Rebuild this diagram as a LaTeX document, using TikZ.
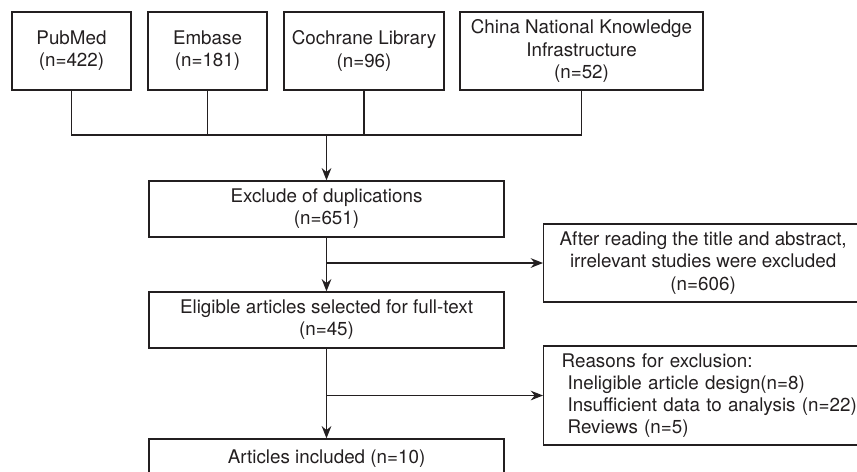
\documentclass[tikz,border=0pt]{standalone}
\usepackage{fontspec}
\setmainfont{TeX Gyre Heros}
\usetikzlibrary{arrows.meta}
\definecolor{flowline}{HTML}{231F20}

\begin{document}
\begin{tikzpicture}[x=0.02cm,y=-0.02cm,>={Stealth[length=7pt,width=5.5pt]},
  line width=0.75pt,color=flowline,
  box/.style={draw=flowline,align=center,inner sep=0pt,text=flowline,
    font=\fontsize{10.7}{12.6}\selectfont}]
  \useasboundingbox (0,0) rectangle (857,471);
  % sources
  \node[box,minimum width=2.38cm,minimum height=1.56cm] (pubmed) at (71.5,51) {PubMed\\(n=422)};
  \node[box,minimum width=2.38cm,minimum height=1.56cm] (embase) at (207.5,51) {Embase\\(n=181)};
  \node[box,minimum width=3.2cm,minimum height=1.56cm] (cochrane) at (364,51) {Cochrane Library\\(n=96)};
  \node[box,minimum width=4.86cm,minimum height=1.56cm] (cnki) at (581.5,51)
    {China National Knowledge\\Infrastructure\\(n=52)};
  % main column
  \node[box,minimum width=7.1cm,minimum height=1.12cm] (excl) at (326.5,209) {Exclude of duplications\\(n=651)};
  \node[box,minimum width=7.1cm,minimum height=1.12cm] (elig) at (326.5,320)
    {Eligible articles selected for full-text\\(n=45)};
  \node[box,minimum width=7.1cm,minimum height=0.8cm] (incl) at (326.5,459) {Articles included (n=10)};
  % exclusions
  \node[box,anchor=west,minimum width=6.38cm,minimum height=1.56cm] (drop1) at (543,263)
    {After reading the title and abstract,\\irrelevant studies were excluded\\(n=606)};
  \node[box,anchor=west,align=left,text width=6.2cm,inner xsep=0.36cm,minimum height=1.98cm] (drop2) at (543,395.5)
    {Reasons for exclusion:\\
     \hspace*{0.12cm}Ineligible article design(n=8)\\
     \hspace*{0.12cm}Insufficient data to analysis (n=22)\\
     \hspace*{0.12cm}Reviews (n=5)};
  \coordinate (join) at (326.5,135);
  \draw (pubmed.south) |- (cnki.south |- join) -- (cnki.south);
  \draw (embase.south) -- (embase.south |- join);
  \draw (cochrane.south) -- (cochrane.south |- join);
  \draw[->] (join) -- (excl.north);
  \draw[->] (excl.south) -- (elig.north);
  \draw[->] (elig.south) -- (incl.north);
  \coordinate (split1) at (excl.south |- drop1.west);
  \coordinate (split2) at (elig.south |- drop2.west);
  \draw[->] (split1) -- (drop1.west);
  \draw[->] (split2) -- (drop2.west);
\end{tikzpicture}
\end{document}
